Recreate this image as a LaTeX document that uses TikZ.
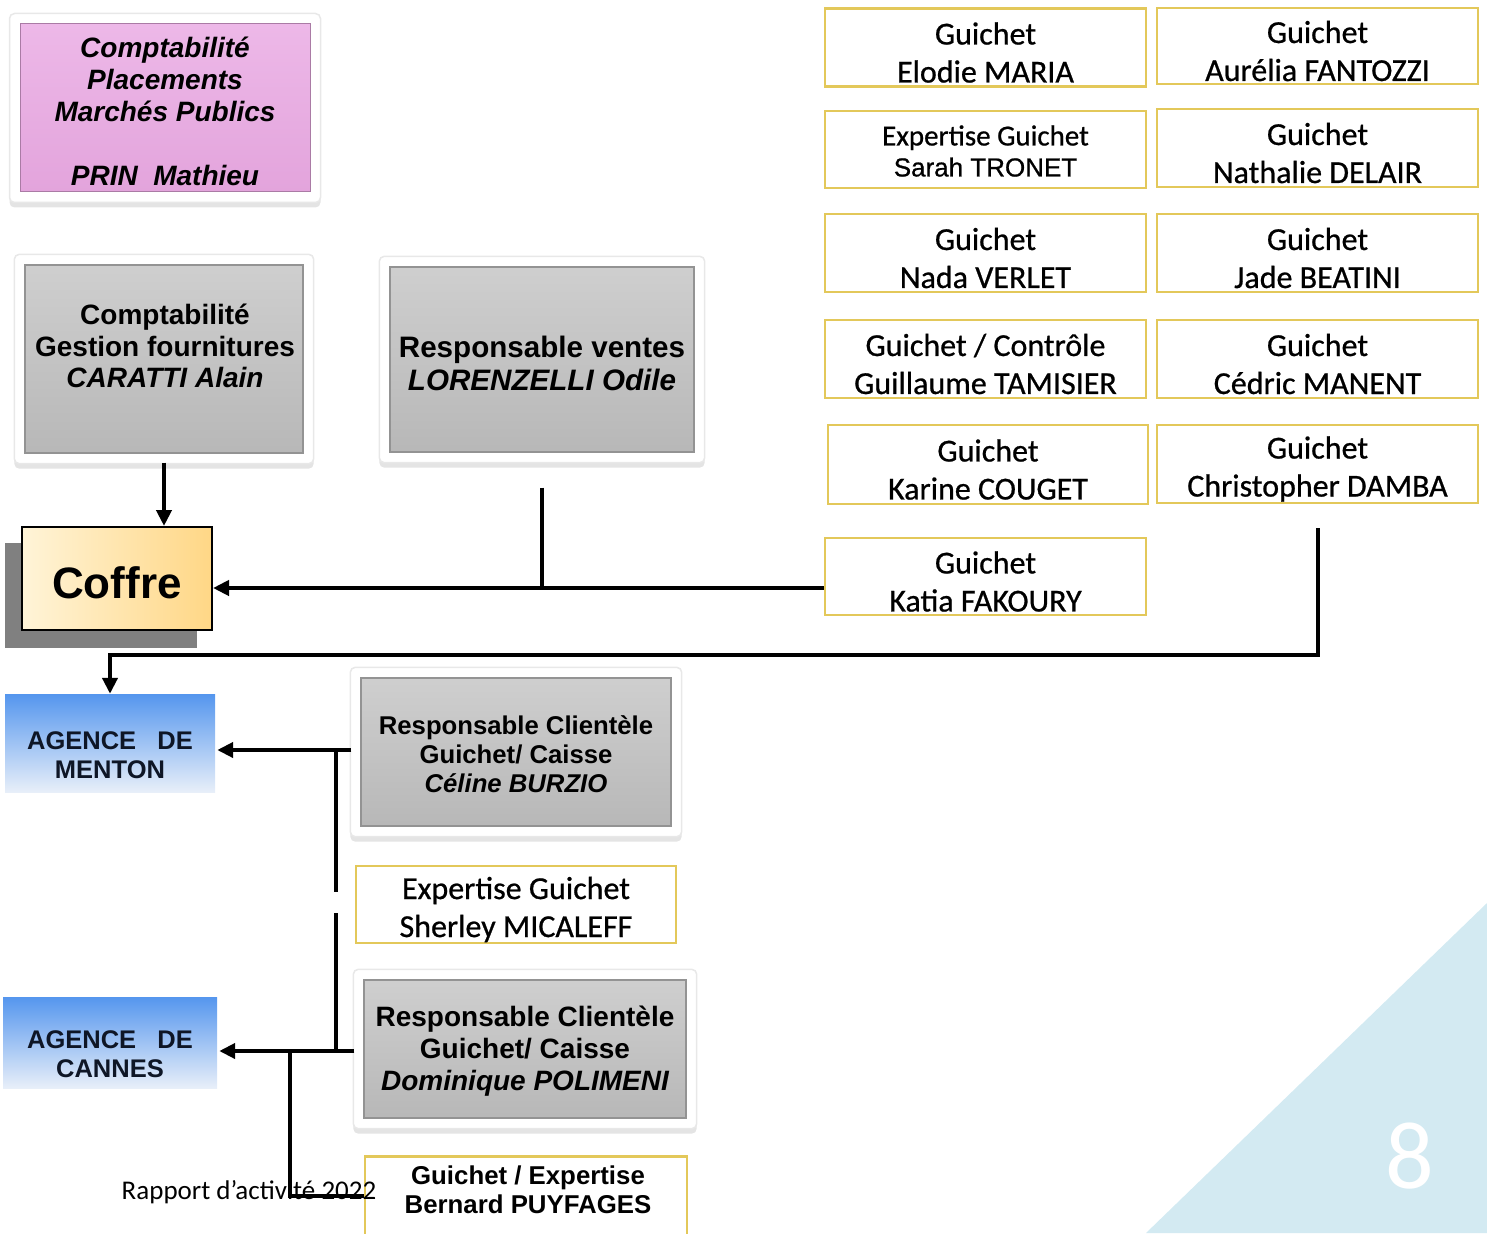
\documentclass[tikz,border=0pt]{standalone}
\usepackage{fontspec}
\setmainfont{Liberation Sans}
\newfontfamily\arialf{Liberation Sans}
\newfontfamily\calf{Carlito}
\newfontfamily\calfb{Carlito}[FakeBold=0.7]
\newfontfamily\arialm{Liberation Sans}[FakeBold=0.8]
\usetikzlibrary{arrows.meta,fit,backgrounds,shadows}
\definecolor{ybord}{HTML}{E3C85A}
\definecolor{pinktop}{HTML}{EDB8E8}
\definecolor{pinkbot}{HTML}{E3A4DC}
\definecolor{agtop}{HTML}{5596EE}
\definecolor{agbot}{HTML}{E8EFF9}
\definecolor{agtext}{HTML}{0E1626}
\definecolor{cofA}{HTML}{FFF4D8}
\definecolor{cofB}{HTML}{FFD786}
\definecolor{trib}{HTML}{D3EAF2}
\newcommand\ybx[4]{%
  \node[ybox,#1] (#2) at (#3) {};
  \node[ytext] (#2t) at ([yshift=-5pt]#2.center) {#4};}
\begin{document}
\begin{tikzpicture}[x=1pt,y=-1pt,
  ybox/.style={draw=ybord, line width=2.5pt, fill=white, inner sep=0pt,
    minimum width=321pt, minimum height=78pt},
  ytext/.style={align=center, inner sep=0pt, font=\calfb\fontsize{32}{38}\selectfont},
  gbox/.style={draw=gray!85, line width=1.4pt, top color=gray!38, middle color=gray!46, bottom color=gray!56,
    inner sep=0pt},
  frame/.style={draw=gray!18, line width=1.5pt, fill=white, rounded corners=5pt,
    inner sep=10pt, drop shadow={shadow xshift=0pt, shadow yshift=-5pt, fill=gray!60, opacity=.35}},
  gtext/.style 2 args={align=center, inner sep=0pt, font=\arialf\bfseries\fontsize{#1}{#2}\selectfont},
  agence/.style={top color=agtop, bottom color=agbot, inner sep=0pt},
  agtext/.style={align=center, inner sep=0pt, text=agtext, font=\arialf\bfseries\fontsize{25.5}{29}\selectfont},
  line/.style={line width=4pt},
  arr/.style={line width=4pt, -{Triangle[length=16pt,width=15pt]}}
]
\useasboundingbox (0,0) rectangle (1487,1233);

% decorative triangle and page number
\fill[trib] (1487,903) -- (1487,1233) -- (1146,1233) -- cycle;
\node[text=white, font=\calf\fontsize{96}{100}\selectfont, inner sep=0pt] (pagenum) at (1410,1156) {8};

% pink box
\node[draw=pinkbot!75!black, line width=1pt, top color=pinktop, bottom color=pinkbot,
  minimum width=290pt, minimum height=168pt, inner sep=0pt] (pink) at (165,108) {};
\node[align=center, inner sep=0pt, font=\arialf\bfseries\itshape\fontsize{28}{32}\selectfont] (pinkt) at (165,111)
  {Comptabilité\\Placements\\Marchés Publics\\[32pt]PRIN\ \ Mathieu};

% gray boxes
\node[gbox, minimum width=278pt, minimum height=188pt] (g1) at (164,359) {};
\node[gtext={28}{31.5}] (g1t) at (165,346) {Comptabilité\\Gestion fournitures\\\itshape CARATTI Alain};

\node[gbox, minimum width=304pt, minimum height=185pt] (ventes) at (542,359.5) {};
\node[gtext={29.6}{33}] (ventest) at (542,363.5) {Responsable ventes\\\itshape LORENZELLI Odile};

\node[gbox, minimum width=310pt, minimum height=148pt] (celine) at (516,752) {};
\node[gtext={25.7}{29}] (celinet) at (516,754) {Responsable Clientèle\\Guichet/ Caisse\\\itshape Céline BURZIO};

\node[gbox, minimum width=322pt, minimum height=138pt] (dom) at (525,1049) {};
\node[gtext={28}{32}] (domt) at (525,1051) {Responsable Clientèle\\Guichet/ Caisse\\\itshape Dominique POLIMENI};

\begin{pgfonlayer}{background}
  \node[frame, fit=(pink)] (pinkf) {};
  \node[frame, fit=(g1)] (g1f) {};
  \node[frame, fit=(ventes)] (ventesf) {};
  \node[frame, fit=(celine)] (celinef) {};
  \node[frame, fit=(dom)] (domf) {};
\end{pgfonlayer}

% Coffre
\fill[black!50] (5,543) rectangle (197,648);
\node[draw=black, line width=2pt, left color=cofA, right color=cofB,
  minimum width=190pt, minimum height=103pt, inner sep=0pt] (coffre) at (117,578.5) {};
\node[inner sep=0pt, font=\arialf\bfseries\fontsize{44}{48}\selectfont] (coffret) at (117,583) {Coffre};

% agencies
\node[agence, minimum width=210pt, minimum height=98pt] (menton) at (110,743) {};
\node[agtext] (mentont) at (110,755) {AGENCE\ \ \ DE\\MENTON};
\node[agence, minimum width=214pt, minimum height=91pt] (cannes) at (110,1042.5) {};
\node[agtext] (cannest) at (110,1054.5) {AGENCE\ \ \ DE\\CANNES};

% yellow boxes
\ybx{}{elodie}{985.5,47.5}{Guichet\\Elodie MARIA}
\ybx{minimum height=76pt}{aurelia}{1317.5,46}{Guichet\\Aurélia FANTOZZI}
\node[ybox, minimum height=77pt] (sarah) at (985.5,149.5) {};
\node[align=center, inner sep=0pt, font=\calfb\fontsize{29}{31}\selectfont] (saraht) at (985.5,151)
  {Expertise Guichet\\{\arialm\fontsize{26}{31}\selectfont Sarah TRONET}};
\ybx{}{nathalie}{1317.5,148}{Guichet\\Nathalie DELAIR}
\ybx{}{nada}{985.5,253}{Guichet\\Nada VERLET}
\ybx{}{jade}{1317.5,253}{Guichet\\Jade BEATINI}
\ybx{}{guillaume}{985.5,359}{Guichet / Contrôle\\Guillaume TAMISIER}
\ybx{}{cedric}{1317.5,359}{Guichet\\Cédric MANENT}
\ybx{minimum width=320pt, minimum height=79pt}{karine}{988,464.5}{Guichet\\Karine COUGET}
\ybx{}{chris}{1317.5,464}{Guichet\\Christopher DAMBA}
\ybx{minimum height=77pt}{katia}{985.5,576.5}{Guichet\\Katia FAKOURY}
\ybx{minimum width=320pt, minimum height=77pt}{sherley}{516,904.5}{Expertise Guichet\\Sherley MICALEFF}
\node[ybox, minimum width=322pt, minimum height=90pt, anchor=north] (bernard) at (526,1155) {};
\node[gtext={25.8}{29}] (bernardt) at (528,1190) {Guichet / Expertise\\Bernard PUYFAGES};

% footer
\node[font=\calf\fontsize{27}{30}\selectfont, inner sep=0pt] (footer) at (249,1192) {Rapport d’activité 2022};

% connectors
\draw[arr] ([yshift=-9pt]g1.south) -- (g1.south |- coffre.north);
\draw[arr] (katia.west |- 0,588) -- (coffre.east |- 0,588);
\draw[line] ([yshift=-35pt]ventes.south) -- (ventes.south |- 0,588);
\draw[arr] ([yshift=-24pt]chris.south) |- (menton.north |- 0,655) -- (menton.north);
\draw[arr] ([xshift=-9pt]celine.west |- 0,750) -- ([xshift=2pt]menton.east |- 0,750);
\coordinate (m1) at (336,750);
\coordinate (m2) at (336,892);
\coordinate (m3) at (336,913);
\coordinate (m4) at (336,1052);
\draw[line] (m1) -- (m2);
\draw[line] (m3) -- (m4);
\draw[arr] ([xshift=-9pt]dom.west |- 0,1051) -- ([xshift=2pt]cannes.east |- 0,1051);
\coordinate (b1) at (290,1051);
\draw[line] (b1) |- (bernard.west |- 0,1196);
\end{tikzpicture}
\end{document}
